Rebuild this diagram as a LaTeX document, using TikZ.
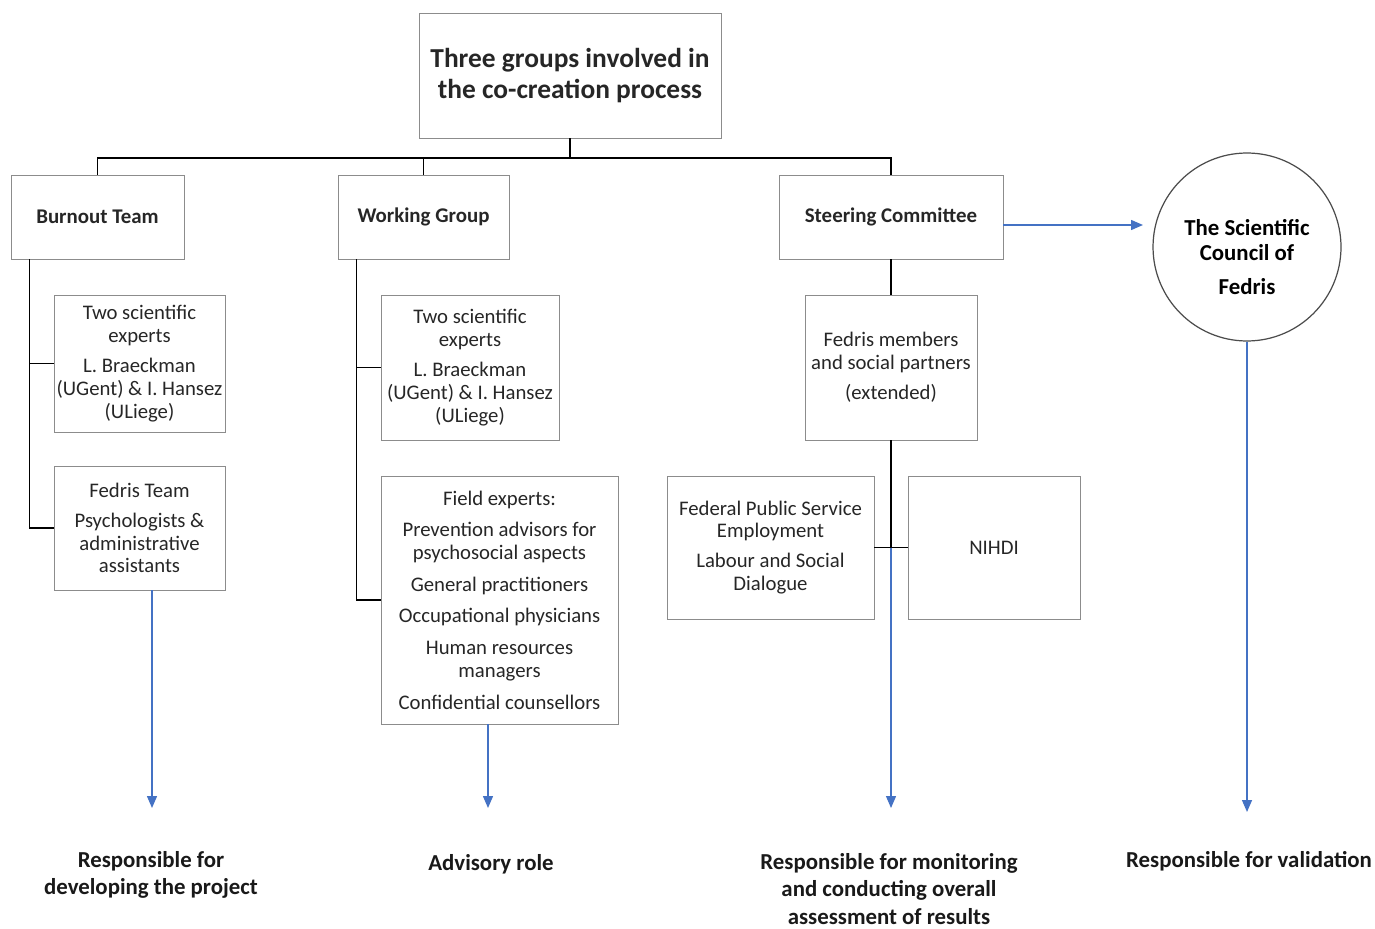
\documentclass[tikz,border=0pt]{standalone}
\usepackage{fontspec}
\setmainfont{Carlito}
\usetikzlibrary{arrows.meta}
\definecolor{flowblue}{HTML}{4472C4}

\begin{document}
\begin{tikzpicture}[x=0.02cm,y=-0.02cm,>={Triangle[length=0.24cm,width=0.2cm]},font=\fontsize{11.8}{13}\selectfont]
		\tikzstyle{box}=[rectangle, draw=black!45, line width=0.5pt, inner sep=0pt, align=center, text=black!85]
		\tikzstyle{group}=[box, font=\fontsize{11.9}{14}\selectfont\bfseries, minimum height=1.68cm]
		\tikzstyle{tree}=[draw=black, line width=1pt]
		\tikzstyle{flow}=[->, draw=flowblue, fill=flowblue, line width=0.8pt]
		\tikzstyle{role}=[align=center, font=\fontsize{13}{15.5}\selectfont\bfseries, text=black!90]

		\useasboundingbox (0,0) rectangle (1375,929);

		\node [box, font=\fontsize{15.6}{18}\selectfont\bfseries, minimum width=6.04cm, minimum height=2.5cm] (top) at (570,75.5) {Three groups involved in\\the co-creation process};

		\node [group, minimum width=3.46cm] (burnout) at (97.5,217) {Burnout Team};
		\node [group, minimum width=3.42cm] (working) at (423.5,217) {Working Group};
		\node [group, minimum width=4.48cm] (steering) at (891,217) {Steering Committee};
		\node [circle, draw=black!70, line width=0.7pt, minimum size=3.76cm, inner sep=0pt,
			label={[align=center, yshift=-0.2cm, font=\fontsize{13}{14.5}\selectfont\bfseries]center:The Scientific\\Council of\\[5pt]Fedris}] (council) at (1247,247) {};

		\node [box, minimum width=3.42cm, minimum height=2.74cm] (bexperts) at (139.5,363.5) {Two scientific\\experts\\[4pt]L. Braeckman\\(UGent) \& I. Hansez\\(ULiege)};
		\node [box, minimum width=3.42cm, minimum height=2.48cm] (fteam) at (139.5,528) {Fedris Team\\[4pt]Psychologists \&\\administrative\\assistants};

		\node [box, minimum width=3.56cm, minimum height=2.9cm] (wexperts) at (470,367.5) {Two scientific\\experts\\[4pt]L. Braeckman\\(UGent) \& I. Hansez\\(ULiege)};
		\node [box, minimum width=4.74cm, minimum height=4.96cm] (field) at (499.5,600) {Field experts:\\[5pt]Prevention advisors for\\psychosocial aspects\\[5pt]General practitioners\\[5pt]Occupational physicians\\[5pt]Human resources\\managers\\[5pt]Confidential counsellors};

		\node [box, minimum width=3.44cm, minimum height=2.9cm] (members) at (891,367.5) {Fedris members\\and social partners\\[4pt](extended)};
		\node [box, minimum width=4.14cm, minimum height=2.86cm] (fps) at (770.5,547.5) {Federal Public Service\\Employment\\[4pt]Labour and Social\\Dialogue};
		\node [box, minimum width=3.44cm, minimum height=2.86cm] (nihdi) at (994,547.5) {NIHDI};

		\node [role] (develop) at (151,875) {Responsible for\\developing the project};
		\node [role] (advisory) at (491,864) {Advisory role};
		\node [role] (monitor) at (889,889) {Responsible for monitoring\\and conducting overall\\assessment of results};
		\node [role] (validate) at (1249,861) {Responsible for validation};

		% tree
		\coordinate (bus) at (0,158);
		\draw [tree] (top.south) -- (top.south |- bus);
		\draw [tree] (burnout.north) -- (burnout.north |- bus) -- (steering.north |- bus) -- (steering.north);
		\draw [tree] (working.north) -- (working.north |- bus);

		\draw [tree] ([xshift=0.38cm]burnout.south west) |- (bexperts.west);
		\draw [tree] ([xshift=0.38cm]burnout.south west) |- (fteam.west);
		\draw [tree] ([xshift=0.38cm]working.south west) |- (wexperts.west);
		\draw [tree] ([xshift=0.38cm]working.south west) |- (field.west);

		\draw [tree] (steering.south) -- (members.north);
		\draw [tree, line width=1.5pt] (members.south) -- (members.south |- fps.east);
		\draw [tree] (fps.east) -- (nihdi.west);

		% roles
		\coordinate (e1) at (152,808);
		\coordinate (e2) at (488,808);
		\coordinate (e3) at (891,808);
		\coordinate (e4) at (1247,812);
		\coordinate (tocouncil) at (1143,225);
		\draw [flow] (fteam.south -| e1) -- (e1);
		\draw [flow] (field.south -| e2) -- (e2);
		\draw [flow] (members.south |- fps.east) -- (e3);
		\draw [flow] (council) -- (e4);
		\draw [flow] (steering.east |- tocouncil) -- (tocouncil);
	\end{tikzpicture}
\end{document}
